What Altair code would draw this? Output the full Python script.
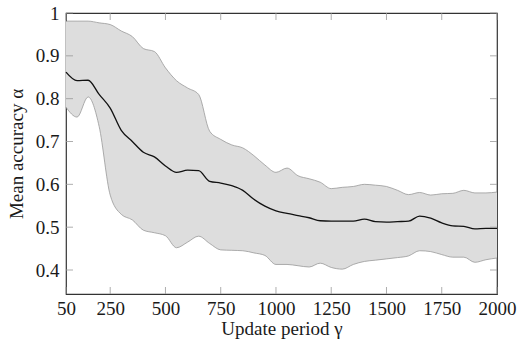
import altair as alt
import pandas as pd

periods = [50, 100, 150, 200, 250, 300, 350, 400, 450, 500, 550, 600, 650, 700, 750, 800,
           850, 900, 950, 1000, 1050, 1100, 1150, 1200, 1250, 1300, 1350, 1400, 1450, 1500,
           1550, 1600, 1650, 1700, 1750, 1800, 1850, 1900, 1950, 2000]
mean_acc = [0.862, 0.842, 0.843, 0.810, 0.778, 0.726, 0.700, 0.675, 0.664, 0.643, 0.628, 0.633,
            0.632, 0.607, 0.603, 0.597, 0.586, 0.565, 0.549, 0.538, 0.532, 0.527, 0.522, 0.515,
            0.514, 0.514, 0.514, 0.519, 0.513, 0.512, 0.513, 0.514, 0.526, 0.521, 0.510, 0.503,
            0.502, 0.496, 0.497, 0.497]
upper_acc = [0.981, 0.981, 0.981, 0.977, 0.973, 0.958, 0.945, 0.917, 0.910, 0.872, 0.842, 0.825,
             0.810, 0.724, 0.705, 0.692, 0.685, 0.667, 0.645, 0.628, 0.638, 0.620, 0.613, 0.605,
             0.590, 0.593, 0.595, 0.600, 0.598, 0.595, 0.586, 0.576, 0.581, 0.575, 0.578, 0.579,
             0.586, 0.580, 0.580, 0.582]
lower_acc = [0.780, 0.757, 0.804, 0.735, 0.575, 0.530, 0.517, 0.493, 0.487, 0.480, 0.452, 0.465,
             0.479, 0.462, 0.447, 0.446, 0.445, 0.440, 0.434, 0.413, 0.413, 0.410, 0.407, 0.416,
             0.406, 0.402, 0.413, 0.420, 0.423, 0.426, 0.429, 0.433, 0.445, 0.443, 0.436, 0.430,
             0.430, 0.418, 0.424, 0.428]
x_ticks = [50, 250, 500, 750, 1000, 1250, 1500, 1750, 2000]
y_ticks = [0.4, 0.5, 0.6, 0.7, 0.8, 0.9, 1.0]

df = pd.DataFrame({"x": periods, "mean": mean_acc, "upper": upper_acc, "lower": lower_acc})
xt = pd.DataFrame({"x": x_ticks})
yt = pd.DataFrame({"y": y_ticks})

FONT = "Liberation Serif"
FS = 19
W, H = 431, 281
XD = [50, 2000]
YD = [0.344, 1.0]

xscale = alt.Scale(domain=XD, nice=False, zero=False)
yscale = alt.Scale(domain=YD, nice=False, zero=False)

xaxis = alt.Axis(values=x_ticks, format="d", ticks=False, domain=False, grid=False,
                 labelPadding=5, title="Update period γ", titlePadding=1, labelFlush=False,
                 labelFont=FONT, labelFontSize=FS, labelColor="#1a1a1a",
                 titleFont=FONT, titleFontSize=FS, titleFontWeight="normal", titleColor="#1a1a1a")
yaxis = alt.Axis(values=y_ticks, ticks=False, domain=False, grid=False,
                 labelPadding=7, title="Mean accuracy α", titlePadding=9, labelFlush=False,
                 labelExpr="datum.value == 1 ? '1' : format(datum.value, '.1f')",
                 labelFont=FONT, labelFontSize=FS, labelColor="#1a1a1a",
                 titleFont=FONT, titleFontSize=FS, titleFontWeight="normal", titleColor="#1a1a1a")


def X(field):
    return alt.X(field, type="quantitative", scale=xscale, axis=xaxis)


def Y(field):
    return alt.Y(field, type="quantitative", scale=yscale, axis=yaxis)


band = alt.Chart(df).mark_area(color="#dddddd", interpolate="monotone").encode(
    x=X("x"), y=Y("upper"), y2="lower:Q")
up_line = alt.Chart(df).mark_line(color="#999999", strokeWidth=0.8, interpolate="monotone").encode(
    x=X("x"), y=Y("upper"))
lo_line = alt.Chart(df).mark_line(color="#999999", strokeWidth=0.8, interpolate="monotone").encode(
    x=X("x"), y=Y("lower"))
mean_line = alt.Chart(df).mark_line(color="#111111", strokeWidth=1.3, interpolate="monotone").encode(
    x=X("x"), y=Y("mean"))

TL = 7
xt_bot = alt.Chart(xt).mark_rule(color="#999999", strokeWidth=0.8).encode(
    x=X("x"), y=alt.value(H), y2=alt.value(H - TL))
xt_top = alt.Chart(xt).mark_rule(color="#999999", strokeWidth=0.8).encode(
    x=X("x"), y=alt.value(0), y2=alt.value(TL))
yt_left = alt.Chart(yt).mark_rule(color="#999999", strokeWidth=0.8).encode(
    y=Y("y"), x=alt.value(0), x2=alt.value(TL))
yt_right = alt.Chart(yt).mark_rule(color="#999999", strokeWidth=0.8).encode(
    y=Y("y"), x=alt.value(W), x2=alt.value(W - TL))

chart = alt.layer(band, up_line, lo_line, mean_line, xt_bot, xt_top, yt_left, yt_right).properties(
    width=W, height=H,
    autosize=alt.AutoSizeParams(type="none"),
    padding={"left": 66, "top": 13, "right": 28, "bottom": 56},
    background="white",
).configure_view(stroke="#333333", strokeWidth=1.2)

chart.save("out.html", embed_options={"renderer": "svg", "actions": False})
